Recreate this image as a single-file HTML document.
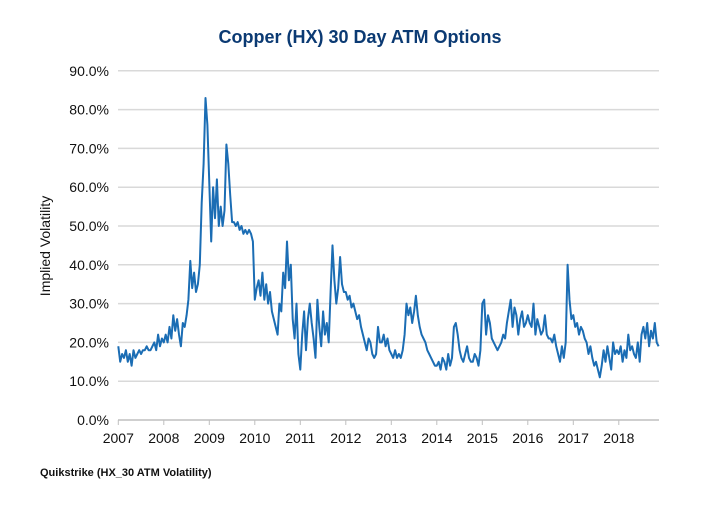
<!DOCTYPE html>
<html><head><meta charset="utf-8"><style>
body{margin:0;background:#fff;width:720px;height:500px;overflow:hidden;font-family:"Liberation Sans",sans-serif}
</style></head><body>
<svg width="720" height="500" font-family="Liberation Sans, sans-serif">
<text x="360" y="43" text-anchor="middle" font-size="18" font-weight="bold" fill="#0b3a73">Copper (HX) 30 Day ATM Options</text>
<text transform="translate(50,246) rotate(-90)" text-anchor="middle" font-size="14" fill="#111">Implied Volatility</text>
<text x="40" y="476" font-size="11" font-weight="bold" fill="#111">Quikstrike (HX_30 ATM Volatility)</text>
<g id="grid"></g><g id="xaxis"></g>
<path id="line" fill="none" stroke="#1b6db4" stroke-width="2" stroke-linejoin="round"/>
</svg>
<script>
const yTicks=[0,10,20,30,40,50,60,70,80,90];
const years=[2007,2008,2009,2010,2011,2012,2013,2014,2015,2016,2017,2018];
const startYear=2007, pointsPerYear=24;
const v2007=[19,15,17,16,18,15,17,14,18,16,17,18,17,18,18,19,18,18,19,20,18,22,19,21];
const v2008=[20,22,20,24,21,27,23,26,22,19,25,24,27,31,41,34,38,33,35,40,56,66,83,76];
const v2009=[61,46,60,52,62,50,55,50,54,71,66,58,51,51,50,51,49,50,48,49,48,49,48,46];
const v2010=[31,34,36,32,38,31,35,30,33,28,26,24,22,30,28,38,34,46,36,40,26,21,30,17];
const v2011=[13,22,28,18,26,30,25,21,16,31,24,19,28,22,25,20,33,45,36,30,34,42,35,33];
const v2012=[33,31,32,29,30,28,26,27,24,22,20,18,21,20,17,16,17,24,20,20,22,19,21,18];
const v2013=[17,16,18,16,17,16,18,22,30,27,29,25,28,32,27,24,22,21,20,18,17,16,15,14];
const v2014=[14,15,13,16,15,13,17,14,16,24,25,22,18,16,15,17,19,16,15,15,17,16,14,18];
const v2015=[30,31,22,27,25,21,20,19,18,19,20,22,21,25,28,31,24,29,27,22,26,28,24,25];
const v2016=[27,25,24,30,22,26,24,22,23,27,22,21,21,20,22,19,17,15,19,16,20,40,31,26];
const v2017=[27,24,25,22,24,23,21,20,17,19,16,14,15,13,11,14,18,15,19,16,13,20,17,18];
const v2018=[17,19,15,18,16,22,18,19,17,16,20,15,22,24,21,25,19,23,21,25,20,19];
const values=[].concat(v2007,v2008,v2009,v2010,v2011,v2012,v2013,v2014,v2015,v2016,v2017,v2018);
const NS="http://www.w3.org/2000/svg";
const X=t=>118.3+(t-2007)*45.5;
const Y=v=>420-v*3.88;
const g=document.getElementById('grid'), xa=document.getElementById('xaxis');
yTicks.forEach(t=>{
  if(t>0){const l=document.createElementNS(NS,'line');
  l.setAttribute('x1',118);l.setAttribute('x2',659);l.setAttribute('y1',Y(t));l.setAttribute('y2',Y(t));
  l.setAttribute('stroke','#d9d9d9');l.setAttribute('stroke-width','1.5');
  
  
  g.appendChild(l);}
  const tx=document.createElementNS(NS,'text');
  tx.setAttribute('x',109);tx.setAttribute('y',Y(t)+5);tx.setAttribute('text-anchor','end');
  tx.setAttribute('font-size','14');tx.setAttribute('fill','#111');
  tx.textContent=t.toFixed(1)+'%';
  
  
  g.appendChild(tx);
});
const base=document.createElementNS(NS,'line');
base.setAttribute('x1',118);base.setAttribute('x2',659);base.setAttribute('y1',Y(0));base.setAttribute('y2',Y(0));
base.setAttribute('stroke','#bfbfbf');base.setAttribute('stroke-width','1.5');


xa.appendChild(base);
years.forEach(yr=>{
  const tk=document.createElementNS(NS,'line');
  tk.setAttribute('x1',X(yr));tk.setAttribute('x2',X(yr));tk.setAttribute('y1',420);tk.setAttribute('y2',425);
  tk.setAttribute('stroke','#bfbfbf');
  
  
  xa.appendChild(tk);
  const tx=document.createElementNS(NS,'text');
  tx.setAttribute('x',X(yr));tx.setAttribute('y',443);tx.setAttribute('text-anchor','middle');
  tx.setAttribute('font-size','14');tx.setAttribute('fill','#111');tx.textContent=yr;
  
  
  xa.appendChild(tx);
});
let d='';
values.forEach((v,i)=>{const t=startYear+i/pointsPerYear;d+=(i?'L':'M')+X(t).toFixed(1)+' '+Y(v).toFixed(1);});
document.getElementById('line').setAttribute('d',d);
</script>
</body></html>
